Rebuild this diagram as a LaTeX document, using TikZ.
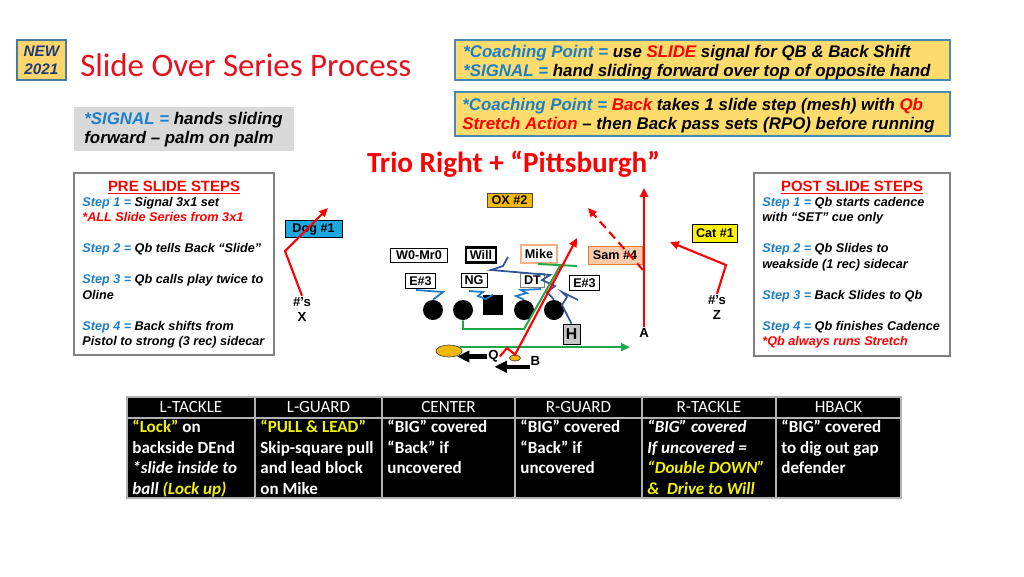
\documentclass[tikz,border=0pt]{standalone}
\usepackage{fontspec}
\setmainfont{Liberation Sans}
\newfontfamily\calibri{Carlito}
\usepackage{tikz}
\usetikzlibrary{arrows.meta, calc, shapes.geometric}

\definecolor{titlered}{HTML}{E8101E}
\definecolor{stepblue}{HTML}{1B7FCB}
\definecolor{newfill}{HTML}{FCD66B}
\definecolor{newedge}{HTML}{4A7A9B}
\definecolor{newtext}{HTML}{1F3D7A}
\definecolor{coachfill}{HTML}{FDDB6D}
\definecolor{coachedge}{HTML}{4A8AB0}
\definecolor{sigfill}{HTML}{D9D9D9}
\definecolor{dogblue}{HTML}{1CA7E0}
\definecolor{oxgold}{HTML}{F5B800}
\definecolor{samfill}{HTML}{F8CBAD}
\definecolor{samedge}{HTML}{ED7D31}
\definecolor{mikeedge}{HTML}{F4B183}
\definecolor{blockdark}{HTML}{2F5597}
\definecolor{blocklight}{HTML}{1F78C8}
\definecolor{pullgreen}{HTML}{1EA84B}
\definecolor{cellyellow}{HTML}{F2F200}
\definecolor{qbgold}{HTML}{F2B705}

\newcommand{\boxfont}{\bfseries\itshape\fontsize{9.6}{10.4}\selectfont}
\newcommand{\stepfont}{\bfseries\itshape\fontsize{7.2}{8.8}\selectfont}
\newcommand{\tagfont}{\bfseries\fontsize{7.2}{8}\selectfont}
\newcommand{\cellfont}{\calibri\bfseries\fontsize{9.7}{11.7}\selectfont}

\begin{document}
\begin{tikzpicture}[x=0.02cm, y=-0.02cm,
    txt/.style={anchor=base west, inner sep=0pt, align=left},
    tag/.style={draw, fill=white, font=\tagfont, inner xsep=2pt, inner ysep=1.6pt},
    spotlbl/.style={font=\bfseries\fontsize{7.5}{8.5}\selectfont, align=center, inner sep=0.5pt},
    player/.style={circle, fill=black, minimum size=0.4cm, inner sep=0pt},
    route/.style={red, line width=1.2pt, -{Triangle[length=5pt,width=4.5pt]}},
    block/.style={line width=1pt},
    motion/.style={line width=2.4pt, -{Triangle[length=7pt,width=6.5pt]}},
    stepsbox/.style={draw=gray, line width=0.8pt, fill=white}]
    \useasboundingbox (0,0) rectangle (1024,576);

    % heading
    \node[draw=newedge, line width=0.8pt, fill=newfill, minimum width=0.98cm, minimum height=0.8cm,
        font=\bfseries\itshape\fontsize{8.7}{10.2}\selectfont, text=newtext, align=center, inner sep=0pt] (newtag) at (41.5,60) {NEW\\2021};
    \node[txt, font=\calibri\fontsize{18.7}{22}\selectfont, text=titlered] (title) at (80,76.5) {Slide Over Series Process};

    % coaching points (text anchored on its last line)
    \node[draw=coachedge, line width=0.8pt, fill=coachfill, minimum width=9.9cm, minimum height=0.8cm] (coach1) at (702.5,60) {};
    \node[txt, font=\boxfont] (coach1txt) at (463,76) {\textcolor{stepblue}{*Coaching Point =} use \textcolor{red}{SLIDE} signal for QB \& Back Shift\\
        \textcolor{stepblue}{*SIGNAL =} hand sliding forward over top of opposite hand};
    \node[draw=coachedge, line width=0.8pt, fill=coachfill, minimum width=9.9cm, minimum height=0.88cm] (coach2) at (702.5,114) {};
    \node[txt, font=\boxfont] (coach2txt) at (462,129) {\textcolor{stepblue}{*Coaching Point =} \textcolor{red}{Back} takes 1 slide step (mesh) with \textcolor{red}{Qb}\\
        \textcolor{red}{Stretch Action} -- then Back pass sets (RPO) before running};
    \node[fill=sigfill, minimum width=4.4cm, minimum height=0.88cm] (signal) at (184,129) {};
    \node[txt, font=\boxfont] (signaltxt) at (84,143) {\textcolor{stepblue}{*SIGNAL =} hands sliding\\forward -- palm on palm};

    \node[anchor=base, inner sep=0pt, font=\calibri\bfseries\fontsize{16.6}{19}\selectfont, text=red] (formation) at (513.5,172) {Trio Right + “Pittsburgh”};

    % pre / post slide steps
    \node[stepsbox, minimum width=4cm, minimum height=3.64cm] (prebox) at (174,264) {};
    \node[anchor=base, inner sep=0pt, font=\bfseries\fontsize{8.5}{10}\selectfont, text=red] (pretitle) at (174,191) {\underline{PRE SLIDE STEPS}};
    \node[txt, font=\stepfont] (presteps) at (82,345.5) {\textcolor{stepblue}{Step 1 =} Signal 3x1 set\\
        \textcolor{red}{*ALL Slide Series from 3x1}\\[8.8pt]
        \textcolor{stepblue}{Step 2 =} Qb tells Back “Slide”\\[8.8pt]
        \textcolor{stepblue}{Step 3 =} Qb calls play twice to\\
        Oline\\[8.8pt]
        \textcolor{stepblue}{Step 4 =} Back shifts from\\
        Pistol to strong (3 rec) sidecar};
    \node[stepsbox, minimum width=3.92cm, minimum height=3.66cm] (postbox) at (852,264.5) {};
    \node[anchor=base, inner sep=0pt, font=\bfseries\fontsize{8.5}{10}\selectfont, text=red] (posttitle) at (852,191) {\underline{POST SLIDE STEPS}};
    \node[txt, font=\stepfont] (poststeps) at (762,345.5) {\textcolor{stepblue}{Step 1 =} Qb starts cadence\\
        with “SET” cue only\\[8.8pt]
        \textcolor{stepblue}{Step 2 =} Qb Slides to\\
        weakside (1 rec) sidecar\\[8.8pt]
        \textcolor{stepblue}{Step 3 =} Back Slides to Qb\\[8.8pt]
        \textcolor{stepblue}{Step 4 =} Qb finishes Cadence\\
        \textcolor{red}{*Qb always runs Stretch}};

    % defense
    \node[tag, fill=oxgold, draw=black!70, minimum width=0.9cm] (ox) at (509.5,200.5) {OX \#2};
    \node[tag, fill=dogblue, minimum width=1.14cm] (dog) at (313.5,229) {Dog \#1};
    \node[tag, fill=yellow, minimum width=0.84cm, minimum height=0.36cm] (cat) at (715,233.5) {Cat \#1};
    \node[tag, minimum width=1.14cm] (wmr) at (419,255.5) {W0-Mr0};
    \node[tag, line width=1.3pt] (will) at (481,255) {Will};
    \node[tag, draw=mikeedge, line width=1.1pt, minimum height=0.36cm] (mike) at (539,254) {Mike};
    \node[tag, fill=samfill, draw=samedge, minimum width=1.08cm, minimum height=0.36cm] (sam) at (615,255) {Sam \#4};
    \node[tag] (ende) at (420.5,281) {E\#3};
    \node[tag] (ng) at (474,280.5) {NG};
    \node[tag, draw=gray] (dt) at (532.5,280.5) {DT};
    \node[tag] (endr) at (584.5,283) {E\#3};

    % offense
    \node[player] (lt) at (433,310) {};
    \node[player] (lg) at (463,310) {};
    \node[fill=black, minimum size=0.4cm, inner sep=0pt] (ctr) at (493,305) {};
    \node[player] (rg) at (524,310) {};
    \node[player] (rt) at (554,310) {};
    \node[tag, fill=gray!45, font=\bfseries\fontsize{9}{10}\selectfont, minimum width=0.34cm, minimum height=0.4cm, inner sep=0pt] (hback) at (571.5,334) {H};
    \node[ellipse, draw=black!70, fill=qbgold, minimum width=0.52cm, minimum height=0.24cm, inner sep=0pt] (qb) at (449,351) {};
    \node[ellipse, draw=black!70, fill=qbgold, minimum width=0.22cm, minimum height=0.12cm, inner sep=0pt] (back) at (515,358) {};
    \node[spotlbl] (xlbl) at (302,309) {\#’s\\X};
    \node[spotlbl] (zlbl) at (717,307) {\#’s\\Z};
    \node[spotlbl] (albl) at (644,333) {A};
    \node[spotlbl] (qlbl) at (493.5,356.5) {Q};
    \node[spotlbl] (blbl) at (535.5,361) {B};

    % blocks
    \draw[block, blocklight] (lt.north) -- (443,292) -- (416,290);
    \draw[block, blocklight] (ctr.north) -- (486,299) -- (478,296) -- (483,292) -- (469,291);
    \draw[block, blocklight] (rg.north) -- (516,296) -- (527,293) -- (521,290) -- (541,289);
    \draw[block, blockdark] (rt.north) -- (547,292) -- (555,286) -- (542,280) -- (550,275) -- (491,270) -- (503,266) -- (508,257);
    \draw[block, blockdark] (hback.north) -- (562,305) -- (567,297) -- (562,292) -- (578,300);
    \draw[pullgreen, line width=1.1pt] (lg.south) -- (463,329) -- (524,329) -- (560,266);
    \draw[pullgreen, line width=1.1pt] (538,264) -- (577,266);
    \coordinate (stretchend) at (630,349);
    \draw[pullgreen, line width=1.1pt, -{Triangle[length=5pt,width=4.5pt]}] (qb.20) -- (qb.20 -| stretchend);

    % routes
    \draw[route] (xlbl.north) -- (285,251) -- (328,208);
    \draw[route] (zlbl.north) -- (726,265) -- (670,242);
    \draw[route] (albl.north) -- (644,188);
    \coordinate (samcut) at (643,270);
    \draw[route, dash pattern=on 5pt off 3pt] (samcut) -- (588,208);
    \draw[route] (qlbl.east) -- (507,348) -- (back.north) -- (577,238);
    \draw[motion] (qlbl.west) -- ++(-30,0);
    \draw[motion] (blbl.south west) -- ++(-35,0);

    % assignments table (cell text anchored on its last line)
    \fill[black] (127,397) rectangle (901,498);
    \foreach \x in {127,255,382,515,642,776,901}
        \draw[gray!60, line width=0.8pt] (\x,397) -- (\x,498);
    \draw[gray!60, line width=0.8pt] (127,397) rectangle (901,498) (127,418) -- (901,418);
    \foreach \x/\id/\name in {191/lt/L-TACKLE, 318.5/lg/L-GUARD, 448.5/c/CENTER, 578.5/rg/R-GUARD, 709/rt/R-TACKLE, 838.5/hb/HBACK}
        \node[text=white, font=\calibri\fontsize{9.7}{11.7}\selectfont, inner sep=0pt] (head\id) at (\x,407.5) {\name};
    \node[txt, text=white, font=\cellfont] (celllt) at (132,494.4) {\textcolor{cellyellow}{“Lock”} on\\backside DEnd\\\textit{*slide inside to}\\\textit{ball \textcolor{cellyellow}{(Lock up)}}};
    \node[txt, text=white, font=\cellfont] (celllg) at (260,494.4) {\textcolor{cellyellow}{“PULL \& LEAD”}\\Skip-square pull\\and lead block\\on Mike};
    \node[txt, text=white, font=\cellfont] (cellc) at (387,473.8) {“BIG” covered\\“Back” if\\uncovered};
    \node[txt, text=white, font=\cellfont] (cellrg) at (520,473.8) {“BIG” covered\\“Back” if\\uncovered};
    \node[txt, text=white, font=\cellfont] (cellrt) at (647,494.4) {\textit{“BIG” covered}\\\textit{If uncovered =}\\\textit{\textcolor{cellyellow}{“Double DOWN”}}\\\textit{\textcolor{cellyellow}{\&\ \ Drive to Will}}};
    \node[txt, text=white, font=\cellfont] (cellhb) at (781,473.8) {“BIG” covered\\to dig out gap\\defender};
\end{tikzpicture}
\end{document}
